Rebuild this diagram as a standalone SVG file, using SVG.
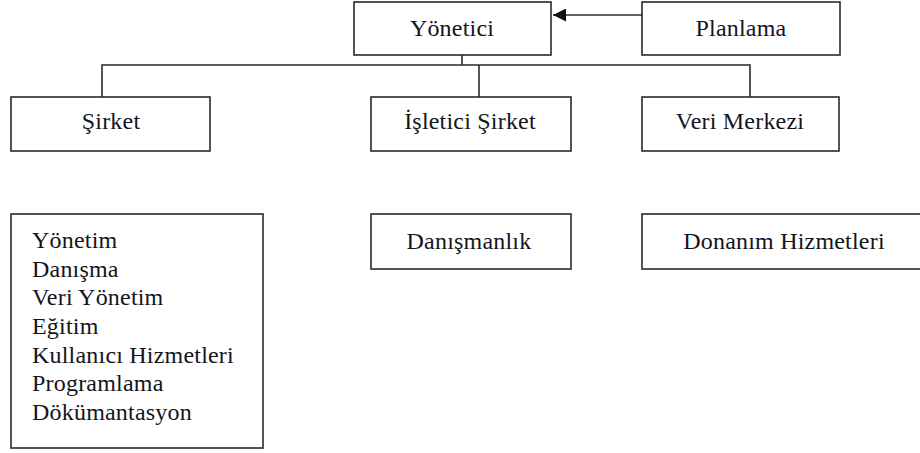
<svg xmlns="http://www.w3.org/2000/svg" width="920" height="453" viewBox="0 0 920 453">
  <style>
    .box { fill: #ffffff; stroke: #2a2a2a; stroke-width: 1.6; }
    .lbl { font-family: "Liberation Serif", "Times New Roman", serif; font-size: 24px; fill: #14141c; letter-spacing: 0.2px; }
    .c { text-anchor: middle; }
    .conn { fill: none; stroke: #2a2a2a; stroke-width: 1.6; }
  </style>
  <defs>
    <marker id="arrow" viewBox="0 0 10 10" refX="10" refY="5" markerWidth="15" markerHeight="13" markerUnits="userSpaceOnUse" orient="auto">
      <path d="M0,0 L10,5 L0,10 Z" fill="#111"/>
    </marker>
  </defs>
  <rect width="920" height="453" fill="#ffffff"/>

  <g id="connectors">
    <path class="conn" d="M462,55 V65"/>
    <path class="conn" d="M102,97 V65 H750 V97"/>
    <path class="conn" d="M479,65 V97"/>
    <path class="conn" d="M642,15 H553" marker-end="url(#arrow)"/>
  </g>

  <g id="yonetici">
    <rect class="box" x="354" y="2" width="197" height="53"/>
    <text class="lbl c" x="452" y="36">Yönetici</text>
  </g>
  <g id="planlama">
    <rect class="box" x="642" y="2" width="198" height="53"/>
    <text class="lbl c" x="741" y="36">Planlama</text>
  </g>
  <g id="sirket">
    <rect class="box" x="11" y="97" width="199" height="54"/>
    <text class="lbl c" x="111" y="129">Şirket</text>
  </g>
  <g id="isletici-sirket">
    <rect class="box" x="371" y="97" width="200" height="54"/>
    <text class="lbl c" x="470" y="129">İşletici Şirket</text>
  </g>
  <g id="veri-merkezi">
    <rect class="box" x="642" y="97" width="197" height="54"/>
    <text class="lbl c" x="740" y="129">Veri Merkezi</text>
  </g>
  <g id="sirket-gorevleri">
    <rect class="box" x="11" y="214" width="252" height="234"/>
    <text class="lbl" x="32" y="248">Yönetim</text>
    <text class="lbl" x="32" y="277">Danışma</text>
    <text class="lbl" x="32" y="305">Veri Yönetim</text>
    <text class="lbl" x="32" y="334">Eğitim</text>
    <text class="lbl" x="32" y="363">Kullanıcı Hizmetleri</text>
    <text class="lbl" x="32" y="391">Programlama</text>
    <text class="lbl" x="32" y="420">Dökümantasyon</text>
  </g>
  <g id="danismanlik">
    <rect class="box" x="371" y="214" width="200" height="55"/>
    <text class="lbl c" x="469" y="249">Danışmanlık</text>
  </g>
  <g id="donanim-hizmetleri">
    <rect class="box" x="642" y="214" width="290" height="55"/>
    <text class="lbl c" x="784" y="249">Donanım Hizmetleri</text>
  </g>
</svg>
